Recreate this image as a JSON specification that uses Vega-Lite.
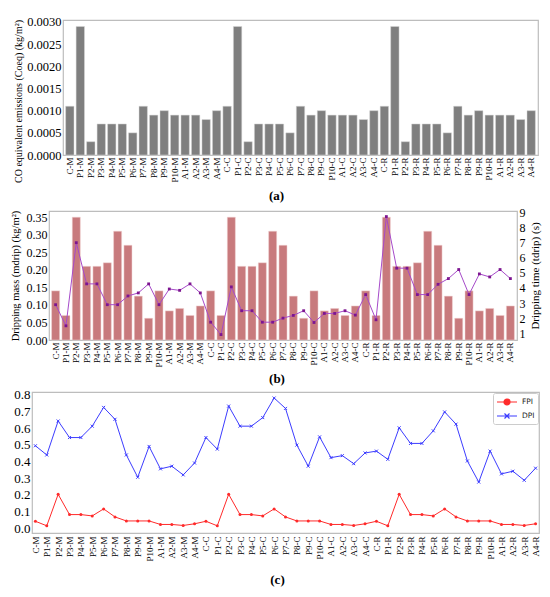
{
  "$schema": "https://vega.github.io/schema/vega-lite/v6.json",
  "padding": {"left": 0, "top": 15, "right": 0, "bottom": 0},
  "autosize": {"type": "pad"},
  "spacing": 0,
  "datasets": {
    "tests": [
      {"cat": "C-M", "co": 0.0011, "mass": 0.14, "time": 2.89, "FPI": 0.043, "DPI": 0.494},
      {"cat": "P1-M", "co": 0.0029, "mass": 0.07, "time": 1.49, "FPI": 0.016, "DPI": 0.439},
      {"cat": "P2-M", "co": 0.0003, "mass": 0.35, "time": 7.0, "FPI": 0.204, "DPI": 0.642},
      {"cat": "P3-M", "co": 0.0007, "mass": 0.21, "time": 4.27, "FPI": 0.083, "DPI": 0.543},
      {"cat": "P4-M", "co": 0.0007, "mass": 0.21, "time": 4.27, "FPI": 0.083, "DPI": 0.543},
      {"cat": "P5-M", "co": 0.0007, "mass": 0.22, "time": 2.89, "FPI": 0.075, "DPI": 0.611},
      {"cat": "P6-M", "co": 0.0005, "mass": 0.31, "time": 2.89, "FPI": 0.117, "DPI": 0.723},
      {"cat": "P7-M", "co": 0.0011, "mass": 0.27, "time": 3.47, "FPI": 0.069, "DPI": 0.652},
      {"cat": "P8-M", "co": 0.0009, "mass": 0.125, "time": 3.67, "FPI": 0.045, "DPI": 0.439},
      {"cat": "P9-M", "co": 0.001, "mass": 0.062, "time": 4.27, "FPI": 0.045, "DPI": 0.306},
      {"cat": "P10-M", "co": 0.0009, "mass": 0.14, "time": 2.89, "FPI": 0.045, "DPI": 0.49},
      {"cat": "A1-M", "co": 0.0009, "mass": 0.083, "time": 3.93, "FPI": 0.024, "DPI": 0.356},
      {"cat": "A2-M", "co": 0.0009, "mass": 0.09, "time": 3.84, "FPI": 0.024, "DPI": 0.372},
      {"cat": "A3-M", "co": 0.0008, "mass": 0.07, "time": 4.27, "FPI": 0.018, "DPI": 0.32},
      {"cat": "A4-M", "co": 0.001, "mass": 0.097, "time": 3.67, "FPI": 0.028, "DPI": 0.391},
      {"cat": "C-C", "co": 0.0011, "mass": 0.14, "time": 1.73, "FPI": 0.043, "DPI": 0.543},
      {"cat": "P1-C", "co": 0.0029, "mass": 0.07, "time": 0.91, "FPI": 0.016, "DPI": 0.474},
      {"cat": "P2-C", "co": 0.0003, "mass": 0.35, "time": 4.07, "FPI": 0.204, "DPI": 0.731},
      {"cat": "P3-C", "co": 0.0007, "mass": 0.21, "time": 2.49, "FPI": 0.083, "DPI": 0.611},
      {"cat": "P4-C", "co": 0.0007, "mass": 0.21, "time": 2.49, "FPI": 0.083, "DPI": 0.611},
      {"cat": "P5-C", "co": 0.0007, "mass": 0.22, "time": 1.73, "FPI": 0.075, "DPI": 0.662},
      {"cat": "P6-C", "co": 0.0005, "mass": 0.31, "time": 1.73, "FPI": 0.117, "DPI": 0.779},
      {"cat": "P7-C", "co": 0.0011, "mass": 0.27, "time": 2.0, "FPI": 0.069, "DPI": 0.717},
      {"cat": "P8-C", "co": 0.0009, "mass": 0.125, "time": 2.18, "FPI": 0.045, "DPI": 0.498},
      {"cat": "P9-C", "co": 0.001, "mass": 0.062, "time": 2.49, "FPI": 0.045, "DPI": 0.372},
      {"cat": "P10-C", "co": 0.0009, "mass": 0.14, "time": 1.71, "FPI": 0.045, "DPI": 0.547},
      {"cat": "A1-C", "co": 0.0009, "mass": 0.083, "time": 2.31, "FPI": 0.024, "DPI": 0.423},
      {"cat": "A2-C", "co": 0.0009, "mass": 0.09, "time": 2.31, "FPI": 0.024, "DPI": 0.435},
      {"cat": "A3-C", "co": 0.0008, "mass": 0.07, "time": 2.49, "FPI": 0.018, "DPI": 0.387},
      {"cat": "A4-C", "co": 0.001, "mass": 0.097, "time": 2.2, "FPI": 0.028, "DPI": 0.451},
      {"cat": "C-R", "co": 0.0011, "mass": 0.14, "time": 3.56, "FPI": 0.043, "DPI": 0.462},
      {"cat": "P1-R", "co": 0.0029, "mass": 0.07, "time": 1.89, "FPI": 0.016, "DPI": 0.413},
      {"cat": "P2-R", "co": 0.0003, "mass": 0.35, "time": 8.73, "FPI": 0.204, "DPI": 0.601},
      {"cat": "P3-R", "co": 0.0007, "mass": 0.21, "time": 5.31, "FPI": 0.083, "DPI": 0.508},
      {"cat": "P4-R", "co": 0.0007, "mass": 0.21, "time": 5.31, "FPI": 0.083, "DPI": 0.508},
      {"cat": "P5-R", "co": 0.0007, "mass": 0.22, "time": 3.56, "FPI": 0.075, "DPI": 0.583},
      {"cat": "P6-R", "co": 0.0005, "mass": 0.31, "time": 3.56, "FPI": 0.117, "DPI": 0.696},
      {"cat": "P7-R", "co": 0.0011, "mass": 0.27, "time": 4.24, "FPI": 0.069, "DPI": 0.623},
      {"cat": "P8-R", "co": 0.0009, "mass": 0.125, "time": 4.62, "FPI": 0.045, "DPI": 0.403},
      {"cat": "P9-R", "co": 0.001, "mass": 0.062, "time": 5.22, "FPI": 0.045, "DPI": 0.277},
      {"cat": "P10-R", "co": 0.0009, "mass": 0.14, "time": 3.56, "FPI": 0.045, "DPI": 0.462},
      {"cat": "A1-R", "co": 0.0009, "mass": 0.083, "time": 4.93, "FPI": 0.024, "DPI": 0.326},
      {"cat": "A2-R", "co": 0.0009, "mass": 0.09, "time": 4.73, "FPI": 0.024, "DPI": 0.342},
      {"cat": "A3-R", "co": 0.0008, "mass": 0.07, "time": 5.22, "FPI": 0.018, "DPI": 0.288},
      {"cat": "A4-R", "co": 0.001, "mass": 0.097, "time": 4.62, "FPI": 0.028, "DPI": 0.36}
    ],
    "blank": [{}]
  },
  "vconcat": [
    {
      "spacing": 0,
      "hconcat": [
        {"width": 11.75, "height": 10, "data": {"name": "blank"}, "mark": {"type": "point", "opacity": 0}, "view": {"stroke": null}},
        {
          "width": 475,
          "height": 135,
          "data": {"name": "tests"},
          "title": {"text": "(a)", "orient": "bottom", "anchor": "middle", "frame": "group", "dx": -24, "offset": 8, "fontSize": 13, "fontWeight": "bold", "font": "Liberation Serif", "color": "black"},
          "mark": {"type": "bar", "color": "#7f7f7f", "stroke": "#d9d9d9", "strokeWidth": 0.5},
          "encoding": {
            "x": {
              "field": "cat", "type": "nominal", "sort": null,
              "scale": {"paddingInner": 0.2, "paddingOuter": 0.25},
              "axis": {"title": null, "labelAngle": -90, "labelFontSize": 9, "labelPadding": 2}
            },
            "y": {
              "field": "co", "type": "quantitative",
              "scale": {"domain": [0, 0.003045], "nice": false},
              "axis": {
                "title": "CO equivalent emissions (Coeq) (kg/m²)",
                "values": [0, 0.0005, 0.001, 0.0015, 0.002, 0.0025, 0.003],
                "format": ".4f", "labelFontSize": 12.5, "labelPadding": 2,
                "titleFontSize": 10, "titleX": -45, "titleY": 81, "titleBaseline": "middle"
              }
            }
          }
        }
      ]
    },
    {
      "spacing": 0,
      "hconcat": [
        {"width": 8.75, "height": 10, "data": {"name": "blank"}, "mark": {"type": "point", "opacity": 0}, "view": {"stroke": null}},
        {
          "width": 468,
          "height": 129,
          "data": {"name": "tests"},
          "title": {"text": "(b)", "orient": "bottom", "anchor": "middle", "frame": "group", "dx": -6, "offset": 6, "fontSize": 13, "fontWeight": "bold", "font": "Liberation Serif", "color": "black"},
          "encoding": {
            "x": {
              "field": "cat", "type": "nominal",
              "sort": ["C-M","P1-M","P2-M","P3-M","P4-M","P5-M","P6-M","P7-M","P8-M","P9-M","P10-M","A1-M","A2-M","A3-M","A4-M","C-C","P1-C","P2-C","P3-C","P4-C","P5-C","P6-C","P7-C","P8-C","P9-C","P10-C","A1-C","A2-C","A3-C","A4-C","C-R","P1-R","P2-R","P3-R","P4-R","P5-R","P6-R","P7-R","P8-R","P9-R","P10-R","A1-R","A2-R","A3-R","A4-R"],
              "scale": {"paddingInner": 0.22, "paddingOuter": 0.25},
              "axis": {"title": null, "labelAngle": -90, "labelFontSize": 9, "labelPadding": 2}
            }
          },
          "layer": [
            {
              "mark": {"type": "bar", "color": "#c87a7d", "stroke": "#f2d6d6", "strokeWidth": 0.5},
              "encoding": {
                "y": {
                  "field": "mass", "type": "quantitative",
                  "scale": {"domain": [0, 0.3675], "nice": false},
                  "axis": {
                    "title": "Dripping mass (mdrip) (kg/m²)",
                    "values": [0, 0.05, 0.1, 0.15, 0.2, 0.25, 0.3, 0.35],
                    "format": ".2f", "labelFontSize": 12, "labelPadding": 2,
                    "titleFontSize": 10.5, "titleX": -34, "titleY": 64.5, "titleBaseline": "middle"
                  }
                }
              }
            },
            {
              "encoding": {
                "y": {
                  "field": "time", "type": "quantitative",
                  "scale": {"domain": [0.55, 9.1], "nice": false},
                  "axis": {
                    "orient": "right", "title": "Dripping time (tdrip) (s)",
                    "values": [1, 2, 3, 4, 5, 6, 7, 8, 9], "format": "d",
                    "labelFontSize": 12, "labelPadding": 2, "titleFontSize": 11, "titlePadding": 4,
                    "titleAngle": -90, "titleBaseline": "top"
                  }
                }
              },
              "layer": [
                {"mark": {"type": "line", "color": "#a64ac9", "strokeWidth": 1}},
                {"mark": {"type": "square", "color": "#7d1590", "size": 8, "opacity": 1}}
              ]
            }
          ],
          "resolve": {"scale": {"y": "independent"}}
        }
      ]
    },
    {
      "spacing": 0,
      "hconcat": [
        {"width": 12.75, "height": 10, "data": {"name": "blank"}, "mark": {"type": "point", "opacity": 0}, "view": {"stroke": null}},
        {
          "width": 507,
          "height": 141,
          "data": {"name": "tests"},
          "transform": [{"fold": ["FPI", "DPI"], "as": ["Index", "value"]}],
          "title": {"text": "(c)", "orient": "bottom", "anchor": "middle", "frame": "group", "dx": -8, "offset": 13, "fontSize": 13, "fontWeight": "bold", "font": "Liberation Serif", "color": "black"},
          "encoding": {
            "x": {
              "field": "cat", "type": "nominal",
              "sort": ["C-M","P1-M","P2-M","P3-M","P4-M","P5-M","P6-M","P7-M","P8-M","P9-M","P10-M","A1-M","A2-M","A3-M","A4-M","C-C","P1-C","P2-C","P3-C","P4-C","P5-C","P6-C","P7-C","P8-C","P9-C","P10-C","A1-C","A2-C","A3-C","A4-C","C-R","P1-R","P2-R","P3-R","P4-R","P5-R","P6-R","P7-R","P8-R","P9-R","P10-R","A1-R","A2-R","A3-R","A4-R"],
              "scale": {"type": "point", "padding": 0.3},
              "axis": {"title": null, "labelAngle": -90, "labelFontSize": 9, "labelPadding": 3}
            },
            "y": {
              "field": "value", "type": "quantitative",
              "scale": {"domain": [-0.027, 0.815], "nice": false},
              "axis": {
                "title": null, "values": [0, 0.1, 0.2, 0.3, 0.4, 0.5, 0.6, 0.7, 0.8],
                "format": ".1f", "labelFontSize": 13, "labelPadding": 2
              }
            },
            "color": {
              "field": "Index", "type": "nominal",
              "scale": {"domain": ["FPI", "DPI"], "range": ["#ff2a2a", "#3c3cff"]},
              "legend": {
                "title": null, "orient": "top-right", "offset": 1, "padding": 3,
                "fillColor": "white", "strokeColor": "#cccccc", "cornerRadius": 2,
                "labelFont": "DejaVu Sans", "labelFontSize": 7.5, "labelColor": "#222222",
                "labelOffset": 14, "symbolSize": 100, "rowPadding": 2, "symbolStrokeWidth": 1.2,
                "encode": {
                  "symbols": {
                    "update": {
                      "shape": {"signal": "datum.value === 'FPI' ? 'M-1,0L3,0M1.6,0A0.6,0.6,0,1,1,0.4,0A0.6,0.6,0,1,1,1.6,0Z' : 'M-1,0L3,0M0.5,-0.5L1.5,0.5M0.5,0.5L1.5,-0.5'"},
                      "fill": {"signal": "datum.value === 'FPI' ? '#ff2a2a' : 'transparent'"}
                    }
                  }
                }
              }
            }
          },
          "layer": [
            {"mark": {"type": "line", "strokeWidth": 1}},
            {
              "transform": [{"filter": "datum.Index === 'FPI'"}],
              "mark": {"type": "circle", "size": 9, "opacity": 1}
            },
            {
              "transform": [{"filter": "datum.Index === 'DPI'"}],
              "mark": {"type": "point", "shape": "M-1,-1L1,1M-1,1L1,-1", "filled": false, "size": 9, "strokeWidth": 1, "opacity": 1}
            }
          ]
        }
      ],
      "resolve": {"scale": {"color": "independent"}, "legend": {"color": "independent"}}
    }
  ],
  "resolve": {"scale": {"color": "independent"}, "legend": {"color": "independent"}},
  "config": {
    "axis": {
      "labelFont": "Liberation Serif", "titleFont": "Liberation Serif",
      "labelColor": "black", "titleColor": "black", "titleFontWeight": "normal",
      "ticks": false, "tickSize": 0, "domain": false, "grid": false
    },
    "view": {"stroke": "#bdbdbd", "strokeWidth": 1.2}
  }
}
